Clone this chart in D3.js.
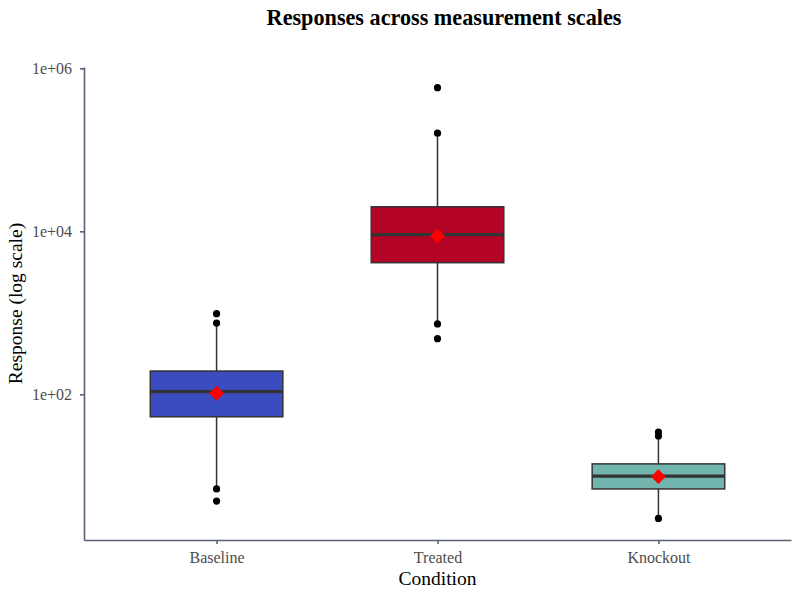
<!DOCTYPE html>
<html>
<head>
  <script src="https://d3js.org/d3.v7.min.js"></script>
  <style>
    body { margin: 0; background: #fff; }
    text { font-family: "Liberation Serif", "DejaVu Serif", serif; }
  </style>
</head>
<body>
<script>
  // Summary statistics (log scale values)
  var conditions = ["Baseline", "Treated", "Knockout"];
  var q1 = [53, 4120, 6.9];
  var median = [108, 9100, 9.9];
  var q3 = [193, 20000, 14];
  var whiskerLow = [7.0, 730, 3.0];
  var whiskerHigh = [690, 160000, 30.5];
  var means = [103, 8750, 9.75];
  var outliers = [
    [750, 975, 6.9, 4.9],
    [578000, 160000, 730, 481],
    [34.4, 30.8, 3.0]
  ];
  var fills = ["#3b4cc0", "#b40426", "#72b5ae"];
  var yTicks = [1e2, 1e4, 1e6];

  var data = conditions.map(function(c, i) {
    return {
      name: c, q1: q1[i], median: median[i], q3: q3[i],
      lo: whiskerLow[i], hi: whiskerHigh[i], mean: means[i],
      out: outliers[i], fill: fills[i]
    };
  });

  var margin = {top: 67, right: 9, bottom: 60, left: 84};
  var width = 800 - margin.left - margin.right;
  var height = 600 - margin.top - margin.bottom;

  var svg = d3.select("body").append("svg")
    .attr("width", 800)
    .attr("height", 600);

  var g = svg.append("g")
    .attr("transform", "translate(" + margin.left + "," + margin.top + ")");

  var x = d3.scalePoint()
    .domain(conditions)
    .range([0, width])
    .padding(0.6);

  var y = d3.scaleLog()
    .domain([1.63, 1.038e6])
    .range([height, 0]);

  var boxW = x.step() * 0.6;
  var stroke = "#333333";

  // whiskers
  g.selectAll(".whisker")
    .data(data)
    .enter().append("line")
    .attr("x1", function(d) { return x(d.name); })
    .attr("x2", function(d) { return x(d.name); })
    .attr("y1", function(d) { return y(d.lo); })
    .attr("y2", function(d) { return y(d.hi); })
    .attr("stroke", stroke)
    .attr("stroke-width", 1.5);

  // boxes
  g.selectAll(".box")
    .data(data)
    .enter().append("rect")
    .attr("x", function(d) { return x(d.name) - boxW / 2; })
    .attr("width", boxW)
    .attr("y", function(d) { return y(d.q3); })
    .attr("height", function(d) { return y(d.q1) - y(d.q3); })
    .attr("fill", function(d) { return d.fill; })
    .attr("stroke", stroke)
    .attr("stroke-width", 1.5);

  // medians
  g.selectAll(".median")
    .data(data)
    .enter().append("line")
    .attr("x1", function(d) { return x(d.name) - boxW / 2; })
    .attr("x2", function(d) { return x(d.name) + boxW / 2; })
    .attr("y1", function(d) { return y(d.median); })
    .attr("y2", function(d) { return y(d.median); })
    .attr("stroke", stroke)
    .attr("stroke-width", 3.2);

  // outliers
  data.forEach(function(d) {
    g.selectAll(null)
      .data(d.out)
      .enter().append("circle")
      .attr("cx", x(d.name))
      .attr("cy", function(v) { return y(v); })
      .attr("r", 3.6)
      .attr("fill", "#000");
  });

  // means
  g.selectAll(".mean")
    .data(data)
    .enter().append("path")
    .attr("d", d3.symbol().type(d3.symbolDiamond2).size(140))
    .attr("transform", function(d) {
      return "translate(" + x(d.name) + "," + y(d.mean) + ")";
    })
    .attr("fill", "#ff0000");

  // axes
  var axisColor = "#596275";
  var xAxis = g.append("g")
    .attr("transform", "translate(0," + height + ")")
    .call(d3.axisBottom(x).tickSize(4).tickPadding(8).tickSizeOuter(0));
  var yAxis = g.append("g")
    .call(d3.axisLeft(y).tickValues(yTicks).tickSize(4).tickPadding(8)
      .tickSizeOuter(0).tickFormat(function(v) {
        var e = Math.round(Math.log10(v));
        return "1e+" + (e < 10 ? "0" : "") + e;
      }));

  [xAxis, yAxis].forEach(function(a) {
    a.select(".domain").attr("stroke", axisColor).attr("stroke-width", 1.6);
    a.selectAll(".tick line").attr("stroke", axisColor).attr("stroke-width", 1.6);
    a.selectAll(".tick text")
      .attr("fill", "#4d4d4d")
      .style("font-size", "16px")
      .style("font-family", "Liberation Serif, serif");
  });
  yAxis.selectAll(".tick text").attr("dy", "0.35em");

  // titles
  svg.append("text")
    .attr("x", 444)
    .attr("y", 25)
    .attr("text-anchor", "middle")
    .style("font-size", "22.2px")
    .style("font-weight", "bold")
    .text("Responses across measurement scales");

  svg.append("text")
    .attr("x", margin.left + width / 2)
    .attr("y", 585)
    .attr("text-anchor", "middle")
    .style("font-size", "19.5px")
    .text("Condition");

  svg.append("text")
    .attr("transform", "translate(22," + (margin.top + height / 2) + ") rotate(-90)")
    .attr("text-anchor", "middle")
    .style("font-size", "19.5px")
    .text("Response (log scale)");
</script>
</body>
</html>
